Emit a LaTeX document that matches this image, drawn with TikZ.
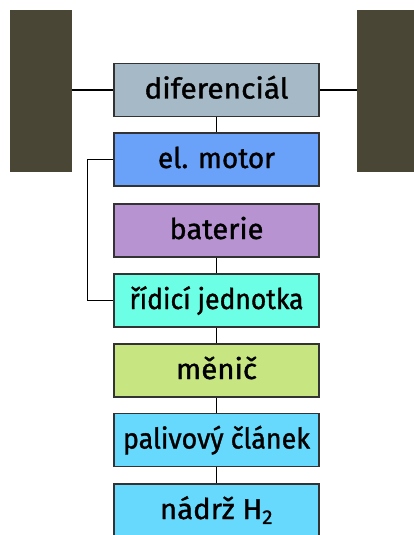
\documentclass[tikz,border=0pt]{standalone}
\usepackage{fontspec}
\usepackage{graphicx}
\setmainfont{Fira Sans}[FakeBold=1.2]
\definecolor{wheel}{HTML}{4A4636}
\definecolor{cdif}{HTML}{A6B9C6}
\definecolor{cmot}{HTML}{6AA2FA}
\definecolor{cbat}{HTML}{B893D2}
\definecolor{cridi}{HTML}{6CFFE6}
\definecolor{cmen}{HTML}{C7E580}
\definecolor{cpal}{HTML}{66D9FD}
\definecolor{edge}{HTML}{333333}
\newcommand{\fitw}[2]{\resizebox{#1pt}{\height}{#2}}
\begin{document}
\begin{tikzpicture}[x=1pt,y=-1pt,
  blk/.style={draw=edge,line width=1.6pt,minimum width=205pt,minimum height=53pt,inner sep=0pt,
    text height=17pt,text depth=0pt,
    font=\fontsize{28.5}{31}\selectfont,text=black},
  link/.style={draw=black,line width=1.3pt}]
\useasboundingbox (0,0) rectangle (414,535);
\clip (0,0) rectangle (414,535);
\fill[wheel] (10,10) rectangle (72,172);
\fill[wheel] (357,10) rectangle (420,172);
\coordinate (wl) at (72,90);
\coordinate (wr) at (357,90);
\node[blk,fill=cdif] (dif) at (216.5,90) {\fitw{144}{diferenciál}};
\node[blk,fill=cmot] (mot) at (216.5,159.5) {\fitw{117}{el. motor}};
\node[blk,fill=cbat] (bat) at (216.5,230.5) {\fitw{94}{baterie}};
\node[blk,fill=cridi] (rid) at (216.5,300.5) {\fitw{174}{řídicí jednotka}};
\node[blk,fill=cmen] (men) at (216.5,370.5) {\fitw{81}{měnič}};
\node[blk,fill=cpal] (pal) at (216.5,440) {\fitw{187}{palivový článek}};
\node[blk,fill=cpal] (nad) at (216.5,510.5) {\fitw{113}{nádrž H\textsubscript{2}}};
\draw[link] (wl) -- (dif.west);
\draw[link] (dif.east) -- (wr);
\foreach \a/\b in {dif/mot,bat/rid,rid/men,men/pal,pal/nad}
  \draw[link] (\a.south) -- (\b.north);
\draw[link] (mot.west) -- ++(-26,0) |- (rid.west);
\end{tikzpicture}
\end{document}
